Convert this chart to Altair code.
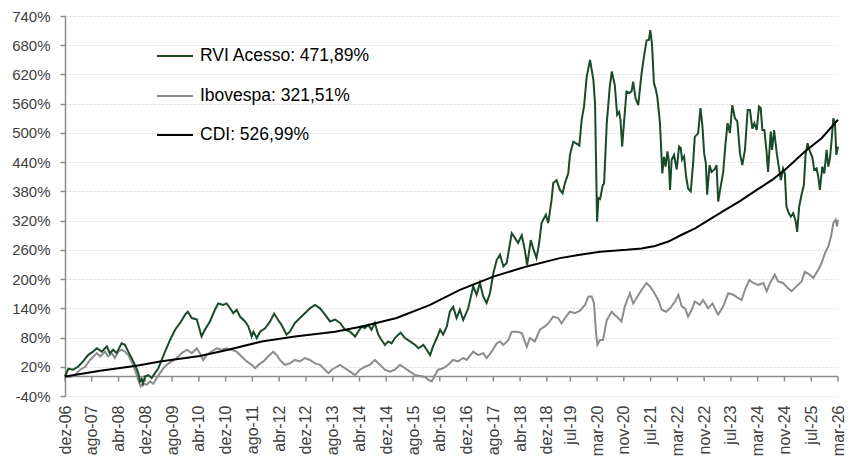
import json
import altair as alt
import pandas as pd

# ---------------- data (months since dez-06, cumulative return %) ----------------
tick_months = [0, 8, 16, 24, 32, 40, 48, 56, 64, 72, 80, 88, 96, 104, 112, 120, 128, 136, 144,
               151, 159, 167, 175, 183, 191, 199, 207, 215, 223, 231]
tick_labels = ["dez-06", "ago-07", "abr-08", "dez-08", "ago-09", "abr-10", "dez-10", "ago-11",
               "abr-12", "dez-12", "ago-13", "abr-14", "dez-14", "ago-15", "abr-16", "dez-16",
               "ago-17", "abr-18", "dez-18", "jul-19", "mar-20", "nov-20", "jul-21", "mar-22",
               "nov-22", "jul-23", "mar-24", "nov-24", "jul-25", "mar-26"]
y_ticks = [-40, 20, 80, 140, 200, 260, 320, 380, 440, 500, 560, 620, 680, 740]

rvi_m = [0, 1.0, 2.4, 3.9, 5.4, 6.9, 8.4, 9.5, 11.0, 12.5, 13.4, 14.4, 15.4, 16.9, 17.9, 18.9, 19.9,
         20.9, 21.9, 22.4, 22.9, 23.3, 23.9, 24.9, 25.9, 26.9, 27.9, 28.9, 29.9, 31.4, 32.9, 34.4,
         35.9, 36.7, 37.9, 39.4, 40.8, 41.8, 43.3, 44.8, 45.8, 47.3, 48.3, 49.3, 50.3, 51.3, 52.3,
         53.8, 54.8, 55.8, 56.3, 57.3, 58.3, 59.8, 61.3, 62.5, 63.7, 64.7, 66.2, 67.2, 68.7, 70.2,
         71.7, 73.2, 74.7, 76.2, 77.7, 79.2, 80.7, 82.2, 83.7, 85.2, 86.7, 87.6, 88.7, 89.6, 90.6,
         91.6, 92.6, 93.6, 94.6, 95.6, 96.6, 97.6, 98.6, 99.6, 100.3, 101.6, 103.1, 104.6, 105.6,
         107.1, 108.1, 109.1, 110.0, 111.1, 112.1, 113.0, 114.1, 115.0, 116.0, 117.0, 118.0, 119.0,
         120.5, 122.0, 123.0, 124.0, 125.0, 126.0, 127.0, 128.0, 129.0, 130.0, 131.0, 132.0, 133.0,
         133.5, 134.5, 135.4, 136.5, 137.4, 138.1, 139.2, 139.9, 140.9, 141.7, 142.4, 143.7, 144.4,
         145.4, 145.9, 146.9, 147.9, 148.7, 149.4, 150.4, 150.9, 151.9, 152.9, 153.7, 154.4, 155.1,
         155.9, 156.9, 157.9, 158.4, 159.0, 159.4, 159.9, 160.7, 161.1, 161.9, 162.8, 163.4, 164.3,
         165.0, 165.6, 166.0, 166.5, 167.3, 167.8, 168.6, 169.3, 169.8, 170.5, 171.3, 172.3, 173.0,
         173.8, 174.5, 174.9, 175.4, 176.0, 176.5, 177.0, 177.8, 178.5, 179.0, 179.5, 180.0, 180.4,
         180.8, 181.3, 182.0, 182.8, 183.5, 184.0, 184.4, 185.0, 185.6, 186.2, 187.0, 187.7, 188.2,
         189.2, 189.9, 190.5, 191.0, 191.5, 191.9, 192.6, 193.2, 194.2, 194.7, 195.2, 195.7, 196.7,
         197.4, 198.0, 198.7, 199.4, 200.2, 200.9, 201.7, 202.4, 203.2, 204.0, 204.7, 205.4, 206.0,
         206.7, 207.4, 207.9, 208.4, 209.0, 209.7, 210.1, 210.9, 211.3, 211.9, 212.7, 213.3, 213.9,
         214.6, 215.1, 215.6, 216.3, 216.9, 217.6, 218.3, 218.8, 219.4, 220.1, 220.8, 221.3, 221.9,
         222.6, 223.3, 223.9, 224.6, 225.1, 225.6, 226.3, 226.9, 227.6, 228.1, 228.6, 229.1, 229.6,
         230.1, 230.5, 231]
rvi_v = [0, 16, 14, 20, 31, 44, 51, 58, 51, 62, 48, 55, 48, 68, 65, 51, 38,
         24, 7, -10, -5, -15, 0, 3, -3, 7, 17, 34, 51, 75, 96, 110,
         127, 133, 120, 117, 82, 96, 113, 137, 150, 147, 150, 140, 130, 137, 123,
         113, 103, 82, 92, 79, 92, 99, 113, 129, 116, 106, 86, 92, 110, 120,
         130, 140, 147, 140, 127, 113, 117, 110, 96, 92, 82, 92, 103, 99, 106,
         96, 110, 86, 75, 65, 72, 68, 79, 86, 90, 79, 72, 65, 58,
         65, 55, 44, 62, 79, 96, 86, 103, 133, 143, 120, 137, 116,
         140, 185, 168, 192, 164, 151, 171, 212, 239, 250, 226, 233, 274,
         294, 284, 274, 290, 260, 229, 280, 263, 243, 274, 315, 332, 315,
         362, 397, 403, 383, 376, 397, 417, 455, 482, 478, 474, 527, 554,
         615, 650, 609, 560, 318, 366, 364, 393, 396, 520, 595, 626, 598,
         537, 543, 527, 472, 543, 585, 582, 585, 605, 571, 557, 622, 656,
         690, 691, 711, 684, 602, 591, 574, 520, 417, 451, 431, 462, 445,
         383, 445, 455, 425, 472, 469, 445, 452, 411, 386, 380, 438, 492,
         499, 551, 513, 458, 438, 373, 434, 420, 426, 434, 359, 380, 420,
         479, 520, 500, 557, 530, 524, 458, 434, 465, 547, 547, 509, 520,
         506, 554, 551, 506, 506, 458, 420, 503, 465, 506, 458, 431, 403,
         427, 417, 349, 335, 328, 335, 321, 297, 349, 373, 393, 455, 479,
         462, 451, 424, 427, 410, 383, 431, 417, 465, 431, 448, 486, 530,
         520, 455, 471.89]

ibov_m = [0, 1.5, 3.0, 4.5, 6.0, 7.5, 8.5, 9.5, 10.5, 12.0, 12.9, 14.0, 14.9, 15.9, 16.9, 17.9, 18.9,
          19.9, 20.9, 21.9, 22.6, 23.4, 24.4, 25.4, 26.4, 27.4, 28.4, 29.4, 30.4, 31.9, 33.4, 34.9,
          36.4, 37.9, 39.4, 40.3, 41.3, 42.3, 43.8, 45.3, 46.8, 48.3, 49.8, 51.3, 52.8, 54.3, 55.8,
          56.8, 57.8, 59.3, 60.7, 62.2, 63.3, 64.2, 65.7, 67.2, 68.7, 70.2, 71.7, 73.2, 74.7, 76.2,
          77.7, 78.7, 79.7, 80.7, 82.2, 83.7, 85.2, 86.7, 88.1, 89.6, 91.1, 92.6, 94.1, 95.6, 97.1,
          98.6, 100.1, 101.6, 103.1, 104.6, 106.1, 107.6, 108.6, 109.6, 110.6, 111.5, 113.0, 114.5,
          116.0, 117.5, 119.0, 120.0, 122.0, 123.5, 125.0, 126.0, 127.5, 129.0, 130.0, 131.0, 132.5,
          133.5, 135.0, 136.5, 138.0, 138.9, 140.4, 141.9, 143.4, 144.4, 145.9, 147.4, 148.4, 149.4,
          150.9, 152.4, 153.9, 155.4, 156.4, 157.4, 158.1, 158.7, 159.1, 159.9, 160.8, 161.9, 163.4,
          164.3, 165.3, 166.3, 167.3, 168.8, 169.8, 170.8, 172.3, 173.8, 174.8, 175.8, 177.3, 178.3,
          179.6, 180.8, 182.3, 183.3, 184.3, 185.3, 186.2, 187.3, 188.2, 189.7, 190.7, 192.2, 193.5,
          194.7, 195.2, 196.7, 198.2, 199.7, 201.2, 202.2, 203.2, 204.5, 205.7, 207.2, 208.7, 209.7,
          210.7, 212.1, 213.1, 214.6, 216.1, 217.1, 218.6, 220.1, 221.1, 222.6, 223.6, 225.1, 226.1,
          227.1, 228.1, 228.9, 229.6, 230.3, 230.7, 231]
ibov_v = [0, -1, 3, 14, 20, 34, 41, 48, 41, 51, 41, 48, 38, 51, 55, 51, 44,
          31, 14, -7, -20, -14, -17, -10, -15, -3, 7, 17, 24, 31, 38, 48,
          55, 48, 58, 48, 34, 44, 51, 58, 55, 58, 55, 51, 41, 31, 24,
          17, 24, 31, 41, 51, 44, 34, 24, 27, 34, 31, 38, 34, 27, 24,
          14, 7, 14, 18, 24, 17, 10, 3, 14, 20, 24, 34, 24, 14, 10,
          14, 24, 17, 10, 3, 1, -1, -7, -10, 3, 14, 17, 24,
          34, 31, 38, 34, 51, 44, 48, 38, 51, 68, 72, 65, 75,
          92, 92, 89, 61, 79, 72, 96, 103, 109, 123, 120, 109, 120,
          133, 130, 135, 147, 164, 164, 150, 89, 65, 75, 75, 116, 133,
          126, 120, 113, 144, 171, 150, 161, 178, 192, 185, 175, 157, 137,
          133, 140, 154, 168, 144, 140, 123, 137, 154, 147, 157, 140, 150,
          133, 127, 144, 171, 168, 161, 157, 178, 198, 192, 188, 192, 175,
          192, 209, 195, 192, 181, 175, 185, 195, 215, 209, 202, 219, 233,
          253, 267, 287, 315, 322, 308, 321.51]

cdi_m = [0, 10.5, 21.4, 28.4, 40.3, 48.8, 58.8, 68.7, 80.7, 89.1, 99.1, 109.1, 118.0, 128.0, 138.0,
         147.9, 153.9, 159.9, 167.8, 172.3, 176.3, 180.3, 184.3, 188.3, 192.3, 197.3, 201.7, 206.5,
         211.2, 215.1, 221.1, 226.1, 231]
cdi_v = [0, 12, 22, 31, 42, 55, 72, 82, 92, 103, 120, 147, 178, 205, 226,
         243, 250, 256, 260, 263, 268, 277, 291, 304, 321, 342, 360, 382,
         403, 424, 462, 489, 526.99]

series_names = ["RVI Acesso: 471,89%", "Ibovespa: 321,51%", "CDI: 526,99%"]
series_colors = ["#1b4a29", "#8c8c8c", "#000000"]

# ---------------- chart ----------------
FONT = "Liberation Sans"
W, H = 773, 380

label_expr = "{}[indexof({}, datum.value)]".format(json.dumps(tick_labels), json.dumps(tick_months))

x_enc = alt.X("m:Q",
              scale=alt.Scale(domain=[0, 231], nice=False, zero=False),
              axis=alt.Axis(values=tick_months, labelExpr=label_expr, labelAngle=-90,
                            labelAlign="right", labelBaseline="middle", domain=False,
                            ticks=False, tickSize=0, grid=False, labelPadding=9,
                            labelFont=FONT, labelFontSize=16, labelColor="#404040",
                            labelOverlap=False, title=None))
y_enc = alt.Y("v:Q",
              scale=alt.Scale(domain=[-40, 740], nice=False, zero=False),
              axis=alt.Axis(values=y_ticks, labelExpr="datum.value + '%'", grid=True,
                            gridDash=[2, 2], gridColor="#d9d9d9", gridWidth=1,
                            domain=True, domainColor="#8c8c8c", domainWidth=1.5,
                            ticks=True, tickColor="#8c8c8c", tickSize=5, tickWidth=1.5,
                            labelPadding=10, labelFont=FONT, labelFontSize=15,
                            labelColor="#404040", labelOverlap=False, title=None))

zero_df = pd.DataFrame({"v": [0]})
zero_line = alt.Chart(zero_df).mark_rule(color="#8c8c8c", strokeWidth=1.5).encode(y=y_enc)

tick_df = pd.DataFrame({"m": tick_months, "v": [0] * len(tick_months)})
x_ticks = alt.Chart(tick_df).mark_rule(color="#8c8c8c", strokeWidth=1.5, y2Offset=5).encode(
    x=x_enc, y=y_enc, y2=alt.Y2("v:Q"))


def line(ms, vs, color, width):
    df = pd.DataFrame({"m": ms, "v": vs})
    return alt.Chart(df).mark_line(color=color, strokeWidth=width, interpolate="linear").encode(
        x=x_enc, y=y_enc)


ibov_line = line(ibov_m, ibov_v, series_colors[1], 2)
rvi_line = line(rvi_m, rvi_v, series_colors[0], 2)
cdi_line = line(cdi_m, cdi_v, series_colors[2], 2)

# manual legend inside the plot
legend_layers = []
legend_rows = [40, 80, 119]
one = pd.DataFrame({"a": [0]})
for name, col, yy in zip(series_names, series_colors, legend_rows):
    legend_layers.append(
        alt.Chart(one).mark_rule(color=col, strokeWidth=2).encode(
            x=alt.value(92), x2=alt.value(128), y=alt.value(yy)))
    legend_layers.append(
        alt.Chart(one).mark_text(align="left", baseline="middle", font=FONT, fontSize=17.5,
                                 color="#000000").encode(
            x=alt.value(135), y=alt.value(yy), text=alt.value(name)))

chart = alt.layer(zero_line, x_ticks, ibov_line, rvi_line, cdi_line, *legend_layers).properties(
    width=W, height=H,
    autosize=alt.AutoSizeParams(type="none"),
    padding={"left": 57, "top": 8, "right": 8, "bottom": 60},
    background="white",
).configure_view(stroke=None)

chart.save("out.html", embed_options={"renderer": "svg", "actions": False})
